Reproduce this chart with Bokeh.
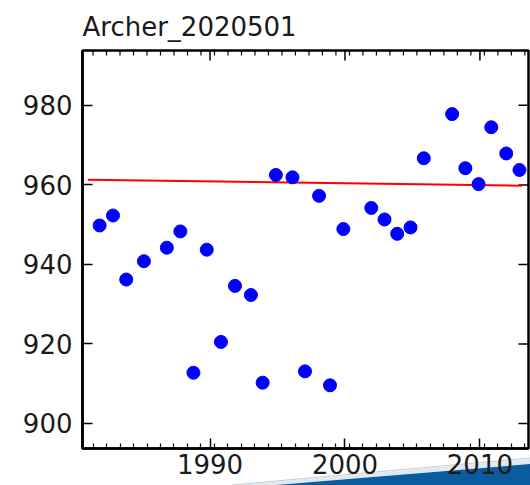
from bokeh.plotting import figure
from bokeh.models import Range1d, FixedTicker, LinearAxis, InlineStyleSheet
from bokeh.embed import file_html
from bokeh.resources import INLINE

# ---- data ----
title_text = "Archer_2020501"
years = [1981.82, 1982.81, 1983.79, 1985.10, 1986.80, 1987.80, 1988.77, 1989.76,
         1990.81, 1991.85, 1993.03, 1993.90, 1994.88, 1996.11, 1997.04, 1998.08,
         1998.89, 1999.88, 2001.95, 2002.93, 2003.87, 2004.86, 2005.84, 2007.94,
         2008.92, 2009.90, 2010.84, 2011.95, 2012.93]
values = [949.8, 952.3, 936.2, 940.8, 944.2, 948.3, 912.75, 943.7,
          920.5, 934.6, 932.3, 910.25, 962.5, 961.9, 913.1, 957.25,
          909.6, 948.9, 954.2, 951.3, 947.7, 949.3, 966.7, 977.8,
          964.2, 960.2, 974.5, 967.9, 963.75]
trend_years = [1980.96, 2013.11]
trend_values = [961.3, 959.8]
x_major_ticks = [1990, 2000, 2010]
x_minor_ticks = [1981.33 + i for i in range(33)]
y_major_ticks = [900, 920, 940, 960, 980]

FONT = "DejaVu Sans"
X0, X1 = 1980.55, 2013.6
Y0, Y1 = 893.7, 993.8
W, H = 530, 485
ML, MR, MT, MB = 82, 2, 50, 37
FW, FH = W - ML - MR, H - MT - MB

# decorative swoosh seen at the bottom-right corner of the reference image
swoosh_svg = (
    "<svg xmlns='http://www.w3.org/2000/svg' width='530' height='485'>"
    "<polygon points='240,485 530,459 530,464 276,485' fill='%23dde9f3'/>"
    "<line x1='232' y1='485' x2='530' y2='458' stroke='%23bbbbbb' stroke-width='0.8'/>"
    "<polygon points='276,485 530,464 530,485' fill='%230b5c9e'/>"
    "</svg>"
)
css = InlineStyleSheet(css=(
    ":host { background-color: white; background-repeat: no-repeat; "
    "background-image: url(\"data:image/svg+xml;utf8," + swoosh_svg + "\"); }"
))

p = figure(width=W, height=H, output_backend="svg", toolbar_location=None,
           x_range=Range1d(X0, X1), y_range=Range1d(Y0, Y1),
           x_axis_location=None, y_axis_location=None,
           min_border_left=ML, min_border_right=MR, min_border_top=MT, min_border_bottom=MB,
           stylesheets=[css])
p.background_fill_color = "white"
p.border_fill_color = None
p.outline_line_color = "black"
p.outline_line_width = 2.5
p.grid.visible = False

p.title.text = title_text
p.title.text_font = FONT
p.title.text_font_size = "26px"
p.title.text_font_style = "normal"
p.title.text_color = "#1a1a1a"
p.title.align = "left"
p.title.standoff = 17


def style_axis(ax):
    ax.axis_line_color = "black"
    ax.axis_line_width = 2.5
    ax.major_tick_in = 10
    ax.major_tick_out = 0
    ax.minor_tick_in = 5
    ax.minor_tick_out = 0
    ax.major_tick_line_color = "black"
    ax.major_tick_line_width = 1.5
    ax.minor_tick_line_color = "black"
    ax.minor_tick_line_width = 1.2
    ax.major_label_text_font = FONT
    ax.major_label_text_font_size = "26px"
    ax.major_label_text_color = "#1a1a1a"


bottom = LinearAxis(ticker=FixedTicker(ticks=x_major_ticks, minor_ticks=x_minor_ticks))
style_axis(bottom)
bottom.major_label_standoff = 5
left = LinearAxis(ticker=FixedTicker(ticks=y_major_ticks, minor_ticks=[]))
style_axis(left)
left.major_label_standoff = 10
p.add_layout(bottom, "below")
p.add_layout(left, "left")

# mirrored inward ticks on the top and right edges (no labels)
dy_major = 10 * (Y1 - Y0) / FH
dy_minor = 5 * (Y1 - Y0) / FH
dx_major = 10 * (X1 - X0) / FW
p.segment(x0=x_major_ticks, y0=[Y1] * 3, x1=x_major_ticks, y1=[Y1 - dy_major] * 3,
          line_color="black", line_width=1.5)
p.segment(x0=x_minor_ticks, y0=[Y1] * len(x_minor_ticks), x1=x_minor_ticks,
          y1=[Y1 - dy_minor] * len(x_minor_ticks), line_color="black", line_width=1.2)
p.segment(x0=[X1] * len(y_major_ticks), y0=y_major_ticks, x1=[X1 - dx_major] * len(y_major_ticks),
          y1=y_major_ticks, line_color="black", line_width=1.5)

p.line(trend_years, trend_values, line_color="#ff0000", line_width=2)
p.scatter(years, values, size=13, marker="circle", fill_color="#0000ff", line_color="#0000ff")

open("out.html", "w").write(file_html(p, INLINE))
